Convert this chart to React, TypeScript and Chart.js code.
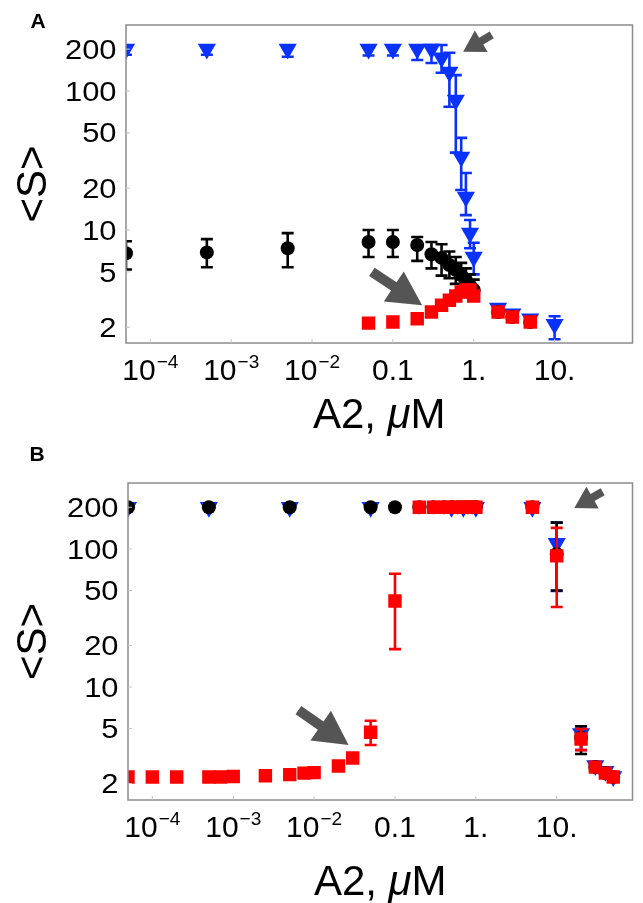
import React, { useEffect, useRef } from "react";
import { Chart, registerables } from "chart.js";

Chart.register(...registerables);

// ---------------- Panel A data ----------------
const aBlueX = [5e-5, 5e-4, 5e-3, 0.05, 0.1, 0.2, 0.3, 0.4, 0.5, 0.6, 0.7, 0.8, 0.9, 1, 2, 3, 5, 10];
const aBlueY = [200, 200, 200, 200, 200, 200, 200, 173, 137, 86, 33.5, 17.3, 9.5, 6.4, 2.75, 2.5, 2.3, 2.1];
const aBlueHi = [205, 205, 205, 205, 205, 205, 214, 214, 188, 130, 46, 25.7, 11.8, 8.1, 2.85, 2.6, 2.4, 2.4];
const aBlueLo = [182, 182, 176, 180, 180, 167, 159, 135, 77, 36, 19.4, 12.8, 7.4, 4.8, 2.75, 2.5, 2.3, 1.64];

const aBlackX = [5e-5, 5e-4, 5e-3, 0.05, 0.1, 0.2, 0.3, 0.4, 0.5, 0.6, 0.7, 0.8, 0.9, 1, 2, 3, 5];
const aBlackY = [6.8, 6.9, 7.4, 8.2, 8.2, 7.8, 6.7, 6.3, 5.6, 5.15, 4.74, 4.37, 4.0, 3.7, 2.57, 2.37, 2.18];
const aBlackHi = [8.3, 8.6, 9.5, 10, 10, 8.9, 8.2, 7.9, 7.0, 6.4, 5.8, 5.3, 4.8, 4.4, 2.57, 2.37, 2.18];
const aBlackLo = [5.2, 5.4, 5.4, 6.4, 6.4, 6.0, 5.3, 4.7, 4.5, 4.1, 3.8, 3.55, 3.3, 3.1, 2.57, 2.37, 2.18];

const aRedX = [0.05, 0.1, 0.2, 0.3, 0.4, 0.5, 0.6, 0.7, 0.8, 0.9, 1, 2, 3, 5];
const aRedY = [2.14, 2.18, 2.3, 2.57, 2.88, 3.13, 3.35, 3.58, 3.7, 3.7, 3.35, 2.57, 2.37, 2.18];

// arrows (tail -> tip, data units)
const aArrowTailX = [1.67, 0.055];
const aArrowTailY = [253, 5.0];
const aArrowTipX = [0.74, 0.23];
const aArrowTipY = [191, 2.88];

// ---------------- Panel B data ----------------
const bBlackX = [5e-5, 5e-4, 5e-3, 0.05, 0.1, 0.2, 0.3, 0.4, 0.5, 0.6, 0.7, 0.8, 0.9, 1, 5, 10, 20, 30, 40, 50];
const bBlackY = [200, 200, 200, 200, 200, 200, 200, 200, 200, 200, 200, 200, 200, 200, 200, 92, 4.3, 2.63, 2.38, 2.23];
const bBlackHi = [200, 200, 200, 200, 200, 200, 200, 200, 200, 200, 200, 215, 200, 200, 200, 155, 5.2, 2.63, 2.38, 2.23];
const bBlackLo = [200, 200, 200, 200, 200, 200, 200, 200, 200, 200, 200, 185, 200, 200, 200, 50, 3.27, 2.63, 2.38, 2.23];

const bBlueX = [5e-5, 5e-4, 5e-3, 0.05, 0.5, 0.7, 1, 5, 10, 20, 30, 40, 50];
const bBlueY = [200, 200, 200, 200, 200, 200, 200, 200, 110, 4.6, 2.7, 2.45, 2.25];
const bBlueHi = [200, 200, 200, 200, 200, 200, 200, 200, 155, 5.0, 2.7, 2.45, 2.25];
const bBlueLo = [200, 200, 200, 200, 200, 200, 200, 200, 49.6, 3.5, 2.7, 2.45, 2.25];

const bRedX = [5e-5, 1e-4, 2e-4, 5e-4, 7e-4, 1e-3, 2.5e-3, 5e-3, 7.5e-3, 1e-2, 2e-2, 3e-2, 5e-2, 0.1, 0.2, 0.3, 0.4, 0.5, 0.6, 0.7, 0.8, 0.9, 1, 5, 10, 20, 30, 40, 50];
const bRedY = [2.23, 2.23, 2.23, 2.23, 2.23, 2.25, 2.28, 2.32, 2.38, 2.4, 2.68, 3.06, 4.7, 42, 200, 200, 200, 200, 200, 200, 200, 200, 200, 200, 89, 4.2, 2.63, 2.38, 2.23];
const bRedHi = [2.23, 2.23, 2.23, 2.23, 2.23, 2.25, 2.28, 2.32, 2.38, 2.4, 2.68, 3.06, 5.7, 66, 200, 200, 200, 200, 200, 200, 200, 200, 200, 200, 142, 4.97, 2.63, 2.38, 2.23];
const bRedLo = [2.23, 2.23, 2.23, 2.23, 2.23, 2.25, 2.28, 2.32, 2.38, 2.4, 2.68, 3.06, 3.8, 18.8, 200, 200, 200, 200, 200, 200, 200, 200, 200, 200, 38, 3.49, 2.63, 2.38, 2.23];

const bArrowTailX = [37, 0.0064];
const bArrowTailY = [259, 6.8];
const bArrowTipX = [16.5, 0.0267];
const bArrowTipY = [198, 3.8];

// ---------------- ticks ----------------
const yTicks = [2, 5, 10, 20, 50, 100, 200];
const yTickLabels = ["2", "5", "10", "20", "50", "100", "200"];
const xTicks = [1e-4, 1e-3, 1e-2, 0.1, 1, 10];
const xTickBase = ["10", "10", "10", "0.1", "1.", "10."];
const xTickExp = ["\u22124", "\u22123", "\u22122", "", "", ""];

const FONT = '"Liberation Sans", Arial, sans-serif';
const BLUE = "#0a32ff";
const RED = "#ff0000";
const BLACK = "#000000";
const ARROW = "#555555";

function drawArrow(ctx: CanvasRenderingContext2D, tx: number, ty: number, hx: number, hy: number, big: boolean) {
  const dx = hx - tx, dy = hy - ty;
  const len = Math.hypot(dx, dy);
  const ux = dx / len, uy = dy / len, nx = -uy, ny = ux;
  const headLen = big ? 34 : 21, headW = big ? 36 : 25, shaftW = big ? 10 : 8;
  const bx = hx - ux * headLen, by = hy - uy * headLen;
  ctx.beginPath();
  ctx.moveTo(tx + (nx * shaftW) / 2, ty + (ny * shaftW) / 2);
  ctx.lineTo(bx + (nx * shaftW) / 2, by + (ny * shaftW) / 2);
  ctx.lineTo(bx + (nx * headW) / 2, by + (ny * headW) / 2);
  ctx.lineTo(hx, hy);
  ctx.lineTo(bx - (nx * headW) / 2, by - (ny * headW) / 2);
  ctx.lineTo(bx - (nx * shaftW) / 2, by - (ny * shaftW) / 2);
  ctx.lineTo(tx - (nx * shaftW) / 2, ty - (ny * shaftW) / 2);
  ctx.closePath();
  ctx.fill();
}

function makeDecor(cfg: any) {
  return {
    id: "decor" + cfg.letter,
    beforeDatasetDraw(chart: any, args: any) {
      const ds = chart.data.datasets[args.index];
      const hi = ds.errHi, lo = ds.errLo;
      if (!hi || !lo) return;
      const xs = chart.scales.x, ys = chart.scales.y, ctx = chart.ctx;
      const a = chart.chartArea;
      ctx.save();
      ctx.beginPath();
      ctx.rect(a.left, a.top, a.right - a.left, a.bottom - a.top);
      ctx.clip();
      ctx.strokeStyle = ds.backgroundColor;
      ctx.lineWidth = 2.6;
      ds.data.forEach((p: any, i: number) => {
        if (hi[i] === lo[i]) return;
        const px = xs.getPixelForValue(p.x);
        const y1 = ys.getPixelForValue(hi[i]);
        const y2 = ys.getPixelForValue(lo[i]);
        ctx.beginPath();
        ctx.moveTo(px, y1);
        ctx.lineTo(px, y2);
        ctx.moveTo(px - 6, y1);
        ctx.lineTo(px + 6, y1);
        ctx.moveTo(px - 6, y2);
        ctx.lineTo(px + 6, y2);
        ctx.stroke();
      });
      ctx.restore();
    },
    afterDatasetsDraw(chart: any) {
      const ctx = chart.ctx, a = chart.chartArea;
      const xs = chart.scales.x, ys = chart.scales.y;
      ctx.save();
      // frame
      ctx.strokeStyle = "#8c8c8c";
      ctx.lineWidth = 1.5;
      ctx.strokeRect(a.left, a.top, a.right - a.left, a.bottom - a.top);
      // small inner ticks
      ctx.strokeStyle = "#c4c4c4";
      ctx.lineWidth = 1;
      ctx.beginPath();
      xTicks.forEach((v) => {
        const px = xs.getPixelForValue(v);
        ctx.moveTo(px, a.bottom);
        ctx.lineTo(px, a.bottom - 4);
      });
      yTicks.forEach((v) => {
        const py = ys.getPixelForValue(v);
        ctx.moveTo(a.left, py);
        ctx.lineTo(a.left + 4, py);
      });
      ctx.stroke();
      // arrows
      ctx.fillStyle = ARROW;
      cfg.arrowTailX.forEach((_: number, i: number) => {
        drawArrow(
          ctx,
          xs.getPixelForValue(cfg.arrowTailX[i]),
          ys.getPixelForValue(cfg.arrowTailY[i]),
          xs.getPixelForValue(cfg.arrowTipX[i]),
          ys.getPixelForValue(cfg.arrowTipY[i]),
          i === 1
        );
      });
      ctx.restore();
    },
    afterDraw(chart: any) {
      const ctx = chart.ctx, a = chart.chartArea;
      const xs = chart.scales.x, ys = chart.scales.y;
      ctx.save();
      ctx.fillStyle = "#000";
      // y tick labels
      yTicks.forEach((v, i) => {
        const py = ys.getPixelForValue(v);
        ctx.save();
        ctx.translate(a.left - 9.5, py);
        ctx.scale(1.03, 0.9);
        ctx.font = `30px ${FONT}`;
        ctx.textAlign = "right";
        ctx.textBaseline = "alphabetic";
        ctx.fillText(yTickLabels[i], 0, 0.358 * 30);
        ctx.restore();
      });
      // x tick labels
      const base = a.bottom + 37;
      xTicks.forEach((v, i) => {
        const px = xs.getPixelForValue(v);
        ctx.textAlign = "left";
        ctx.textBaseline = "alphabetic";
        ctx.font = `30px ${FONT}`;
        const wb = ctx.measureText(xTickBase[i]).width;
        let we = 0;
        if (xTickExp[i]) {
          ctx.font = `19px ${FONT}`;
          we = ctx.measureText(xTickExp[i]).width + 1;
        }
        const x0 = px - (wb + we) / 2;
        ctx.font = `30px ${FONT}`;
        ctx.fillText(xTickBase[i], x0, base);
        if (xTickExp[i]) {
          ctx.font = `19px ${FONT}`;
          ctx.fillText(xTickExp[i], x0 + wb + 1, base - 12);
        }
      });
      // x title "A2, μM"
      const parts = [
        { t: "A2, ", f: `42px ${FONT}` },
        { t: "\u03bc", f: `italic 42px ${FONT}` },
        { t: "M", f: `42px ${FONT}` },
      ];
      let tw = 0;
      parts.forEach((p) => {
        ctx.font = p.f;
        tw += ctx.measureText(p.t).width;
      });
      let cx = (a.left + a.right) / 2 - tw / 2;
      const tb = a.bottom + cfg.titleOffset;
      ctx.textAlign = "left";
      parts.forEach((p) => {
        ctx.font = p.f;
        ctx.fillText(p.t, cx, tb);
        cx += ctx.measureText(p.t).width;
      });
      // y title "<S>"
      ctx.save();
      ctx.translate(31, (a.top + a.bottom) / 2);
      ctx.rotate(-Math.PI / 2);
      ctx.font = `42px ${FONT}`;
      ctx.textAlign = "center";
      ctx.fillText("<S>", 0, 15);
      ctx.restore();
      // panel letter
      ctx.font = `bold 21px ${FONT}`;
      ctx.textAlign = "center";
      ctx.fillText(cfg.letter, cfg.letterX, cfg.letterY);
      ctx.restore();
    },
  };
}

function toPts(xs: number[], ys: number[]) {
  return xs.map((x, i) => ({ x, y: ys[i] }));
}

function buildConfig(cfg: any): any {
  const datasets = [
    {
      label: "red",
      data: toPts(cfg.redX, cfg.redY),
      backgroundColor: RED,
      borderWidth: 0,
      pointStyle: "rect",
      pointRadius: 9.5,
      errHi: cfg.redHi,
      errLo: cfg.redLo,
    },
    {
      label: "black",
      data: toPts(cfg.blackX, cfg.blackY),
      backgroundColor: BLACK,
      borderWidth: 0,
      pointStyle: "circle",
      pointRadius: 7,
      errHi: cfg.blackHi,
      errLo: cfg.blackLo,
    },
    {
      label: "blue",
      data: toPts(cfg.blueX, cfg.blueY),
      backgroundColor: BLUE,
      borderWidth: 0,
      pointStyle: "triangle",
      rotation: 180,
      pointRadius: 10.5,
      errHi: cfg.blueHi,
      errLo: cfg.blueLo,
    },
  ];
  return {
    type: "scatter",
    data: { datasets },
    options: {
      animation: false,
      responsive: false,
      devicePixelRatio: 1,
      events: [],
      layout: { padding: { top: cfg.padTop, right: cfg.padRight, left: 0, bottom: 0 } },
      plugins: { legend: { display: false }, tooltip: { enabled: false } },
      scales: {
        x: {
          type: "logarithmic",
          min: cfg.xMin,
          max: cfg.xMax,
          ticks: { display: false },
          grid: { display: false },
          border: { display: false },
          afterFit: (s: any) => {
            s.height = cfg.xAxisH;
          },
        },
        y: {
          type: "logarithmic",
          min: cfg.yMin,
          max: cfg.yMax,
          ticks: { display: false },
          grid: { display: false },
          border: { display: false },
          afterFit: (s: any) => {
            s.width = cfg.yAxisW;
          },
        },
      },
    },
    plugins: [makeDecor(cfg)],
  };
}

const panelA = {
  letter: "A",
  letterX: 38,
  letterY: 28,
  height: 440,
  top: 0,
  padTop: 25,
  padRight: 2,
  yAxisW: 126,
  xAxisH: 97,
  xMin: 5e-5,
  xMax: 92,
  yMin: 1.54,
  yMax: 298,
  titleOffset: 85,
  blueX: aBlueX, blueY: aBlueY, blueHi: aBlueHi, blueLo: aBlueLo,
  blackX: aBlackX, blackY: aBlackY, blackHi: aBlackHi, blackLo: aBlackLo,
  redX: aRedX, redY: aRedY, redHi: null, redLo: null,
  arrowTailX: aArrowTailX, arrowTailY: aArrowTailY, arrowTipX: aArrowTipX, arrowTipY: aArrowTipY,
};

const panelB = {
  letter: "B",
  letterX: 37,
  letterY: 21,
  height: 463,
  top: 440,
  padTop: 43,
  padRight: 1,
  yAxisW: 128,
  xAxisH: 103,
  xMin: 5e-5,
  xMax: 86.5,
  yMin: 1.52,
  yMax: 300,
  titleOffset: 95,
  blueX: bBlueX, blueY: bBlueY, blueHi: bBlueHi, blueLo: bBlueLo,
  blackX: bBlackX, blackY: bBlackY, blackHi: bBlackHi, blackLo: bBlackLo,
  redX: bRedX, redY: bRedY, redHi: bRedHi, redLo: bRedLo,
  arrowTailX: bArrowTailX, arrowTailY: bArrowTailY, arrowTipX: bArrowTipX, arrowTipY: bArrowTipY,
};

function Panel({ cfg }: { cfg: any }) {
  const ref = useRef<HTMLCanvasElement | null>(null);
  useEffect(() => {
    if (!ref.current) return;
    const chart = new Chart(ref.current, buildConfig(cfg));
    return () => chart.destroy();
  }, [cfg]);
  return (
    <canvas
      ref={ref}
      width={643}
      height={cfg.height}
      style={{ position: "absolute", left: 0, top: cfg.top, width: 643, height: cfg.height, display: "block" }}
    />
  );
}

export default function App() {
  return (
    <div style={{ position: "absolute", left: 0, top: 0, width: 643, height: 903, background: "#fff" }}>
      <Panel cfg={panelA} />
      <Panel cfg={panelB} />
    </div>
  );
}
